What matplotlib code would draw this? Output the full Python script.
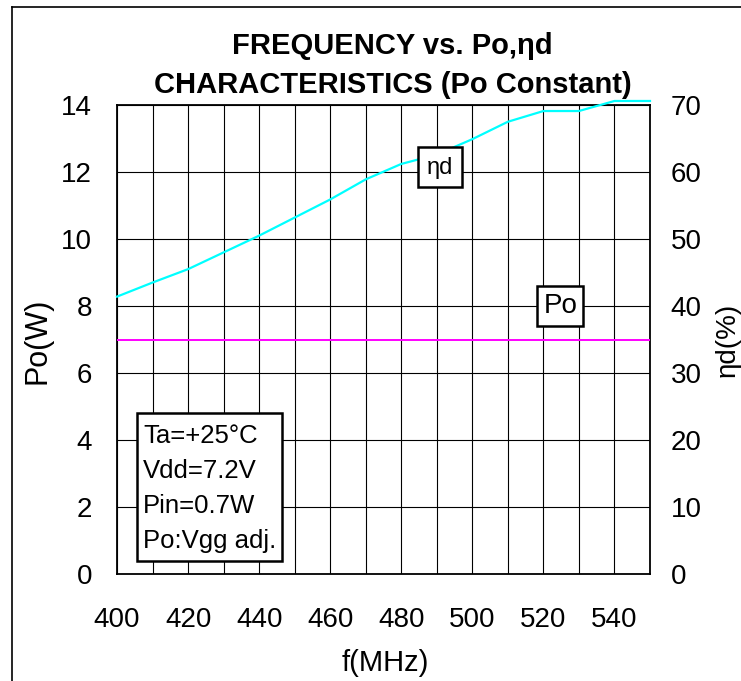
import matplotlib
matplotlib.use("Agg")
import matplotlib.pyplot as plt
from matplotlib.lines import Line2D

plt.rcParams['font.family'] = ['Liberation Sans', 'DejaVu Sans']

freq = [400, 410, 420, 430, 440, 450, 460, 470, 480, 490, 500, 510, 520, 530, 540, 550]
eta = [41.4, 43.5, 45.5, 48.0, 50.5, 53.2, 55.9, 58.9, 61.2, 62.6, 64.9, 67.5, 69.1, 69.1, 70.6, 70.6]
po_freq = [400, 550]
po = [7.0, 7.0]
x_ticks = [400, 420, 440, 460, 480, 500, 520, 540]
y_left_ticks = [0, 2, 4, 6, 8, 10, 12, 14]
y_right_ticks = [0, 10, 20, 30, 40, 50, 60, 70]

W, H = 741, 681
fig = plt.figure(figsize=(W / 100, H / 100), dpi=100)

def fx(px):
    return px / W

def fy(py):
    return 1 - py / H

L, R, T, B = 117, 650, 105, 574
ax = fig.add_axes([fx(L), fy(B), (R - L) / W, (B - T) / H])
ax.set_xlim(400, 550)
ax.set_ylim(0, 14)
ax.set_xticks(range(400, 551, 10))
ax.set_xticklabels([str(v) if v in x_ticks else '' for v in range(400, 551, 10)])
ax.set_yticks(y_left_ticks)
ax.grid(True, color='black', linewidth=0.8)
ax.tick_params(axis='both', length=0, labelsize=20)
ax.tick_params(axis='x', pad=24)
ax.tick_params(axis='y', pad=18)
for s in ax.spines.values():
    s.set_linewidth(1.3)
    s.set_color('black')

ax.plot(po_freq, po, color='#FF00FF', linewidth=1.4, zorder=3)

ax2 = ax.twinx()
ax2.set_ylim(0, 70)
ax2.set_yticks(y_right_ticks)
ax2.tick_params(axis='y', length=0, labelsize=20, pad=15)
ax2.plot(freq, eta, color='#00FFFF', linewidth=1.6, clip_on=False, zorder=3)
for s in ax2.spines.values():
    s.set_visible(False)

# boxes
def box(x0, y0, x1, y1):
    fig.patches.append(plt.Rectangle((fx(x0), fy(y1)), fx(x1) - fx(x0), fy(y0) - fy(y1),
                                     transform=fig.transFigure, facecolor='white',
                                     edgecolor='black', linewidth=1.8, zorder=5))

box(418, 147, 462, 187)
fig.text(fx(440), fy(168), 'ηd', fontsize=17, ha='center', va='center', zorder=6)
box(537, 286, 583, 326)
fig.text(fx(561), fy(306), 'Po', fontsize=20, ha='center', va='center', zorder=6)

box(137, 413, 282, 561)
info = ['Ta=+25°C', 'Vdd=7.2V', 'Pin=0.7W', 'Po:Vgg adj.']
for i, t in enumerate(info):
    fig.text(fx(143), fy(436 + 35 * i), t, fontsize=18.5, ha='left', va='center', zorder=6)

# titles and labels
fig.text(fx(392), fy(46), 'FREQUENCY vs. Po,ηd', fontsize=21, fontweight='bold', ha='center', va='center')
fig.text(fx(393), fy(85), 'CHARACTERISTICS (Po Constant)', fontsize=21, fontweight='bold', ha='center', va='center')
fig.text(fx(385), fy(663), 'f(MHz)', fontsize=21, ha='center', va='center')
fig.text(fx(37.5), fy(341), 'Po(W)', fontsize=22, ha='center', va='center', rotation=90)
fig.text(fx(727.5), fy(340), 'ηd(%)', fontsize=20, ha='center', va='center', rotation=90)

# outer frame (left and top edges)
fig.add_artist(Line2D([fx(12), fx(12)], [fy(7), 0], color='black', linewidth=1.2, transform=fig.transFigure))
fig.add_artist(Line2D([fx(12), 1], [fy(7), fy(7)], color='black', linewidth=1.2, transform=fig.transFigure))

fig.savefig('out.png', dpi=100)
